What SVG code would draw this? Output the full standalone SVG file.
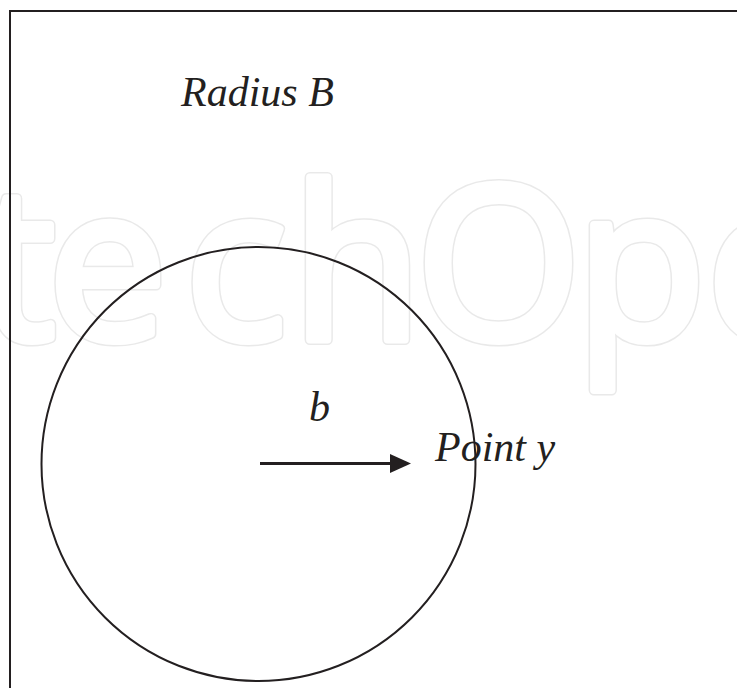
<svg xmlns="http://www.w3.org/2000/svg" width="737" height="688" viewBox="0 0 737 688">
<defs>
<style>
.wm{font-family:"Open Sans","Noto Sans",sans-serif;font-size:212px;stroke-linejoin:round}
.wm-out{fill:none;stroke:#e9e9e9;stroke-width:11}
.wm-in{fill:#ffffff;stroke:#ffffff;stroke-width:8}
.lbl{font-family:"Liberation Serif","Times New Roman",serif;font-style:italic;font-size:42px;fill:#231f20}
.ln{fill:none;stroke:#231f20;stroke-width:2}
</style>
<text id="wmtext" class="wm" x="-20 48 185 292 416 576 707" y="339">techOpe</text>
</defs>
<rect width="737" height="688" fill="#ffffff"/>
<g id="watermark">
<use href="#wmtext" class="wm-out"/>
<use href="#wmtext" class="wm-in"/>
</g>
<g id="frame"><rect class="ln" x="10" y="11" width="760" height="700"/></g>
<g id="circle"><circle class="ln" cx="258.5" cy="464" r="217"/></g>
<g id="connectors">
<line x1="260" y1="463.5" x2="392" y2="463.5" stroke="#231f20" stroke-width="3"/>
<polygon points="390,454 411,463.5 390,473" fill="#231f20"/>
</g>
<g id="label-radius"><text class="lbl" x="181" y="106">Radius B</text></g>
<g id="label-b"><text class="lbl" x="309" y="421">b</text></g>
<g id="label-point"><text class="lbl" x="435" y="461">Point y</text></g>
</svg>
